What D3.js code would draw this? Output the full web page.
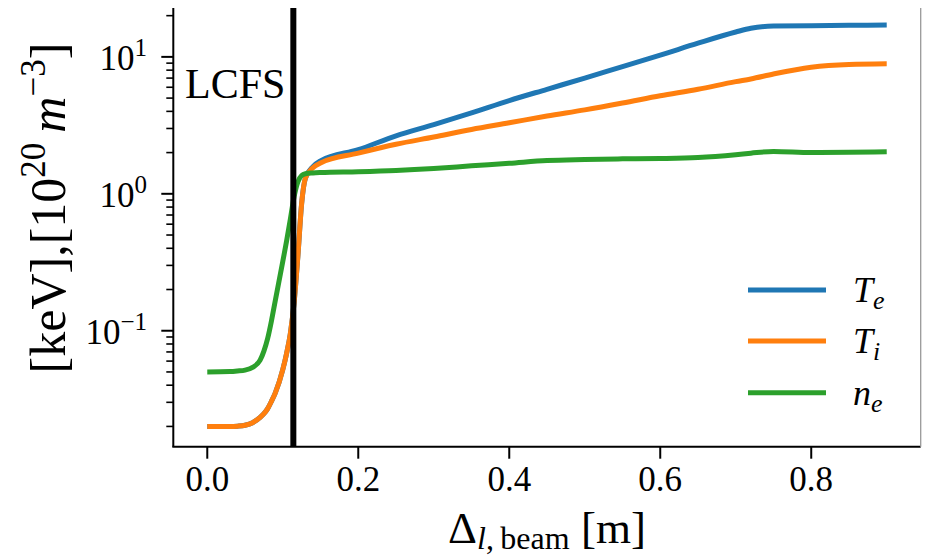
<!DOCTYPE html>
<head>
<meta charset="utf-8">
<script src="https://d3js.org/d3.v7.min.js"></script>
</head>
<body style="margin:0; background:#fff">
<svg width="932" height="555" font-family="Liberation Serif"></svg>
<script>

// positions along the beam [m]
var xs = [0, 0.03, 0.04, 0.05, 0.06, 0.07, 0.075, 0.08, 0.085, 0.09, 0.10, 0.105, 0.11, 0.115, 0.12, 0.125, 0.13, 0.14, 0.15,
          0.2, 0.25, 0.3, 0.35, 0.4, 0.45, 0.5, 0.55, 0.6, 0.65, 0.7, 0.72, 0.75, 0.8, 0.85, 0.9];

var Te = [0.020, 0.020, 0.0201, 0.0204, 0.0213, 0.0233, 0.0248, 0.027, 0.0305, 0.035, 0.052, 0.068, 0.095, 0.16, 0.35, 0.85, 1.30, 1.58, 1.74,
          2.1, 2.65, 3.2, 3.9, 4.8, 5.8, 7.0, 8.5, 10.3, 12.6, 15.2, 16.2, 16.8, 16.9, 17.0, 17.1];

var Ti = [0.020, 0.020, 0.0201, 0.0204, 0.0213, 0.0233, 0.0248, 0.027, 0.0305, 0.035, 0.052, 0.068, 0.095, 0.16, 0.35, 0.85, 1.30, 1.55, 1.68,
          1.98, 2.3, 2.6, 2.95, 3.3, 3.7, 4.1, 4.6, 5.2, 5.8, 6.6, 6.9, 7.5, 8.4, 8.8, 8.9];

var ne = [0.050, 0.0503, 0.0508, 0.0516, 0.054, 0.061, 0.071, 0.088, 0.118, 0.165, 0.32, 0.45, 0.65, 0.95, 1.22, 1.36, 1.40, 1.42, 1.43,
          1.45, 1.48, 1.53, 1.60, 1.67, 1.75, 1.78, 1.80, 1.81, 1.84, 1.93, 1.98, 2.04, 2.00, 2.01, 2.03];

var lcfs = 0.114;

var xTicks = [0.0, 0.2, 0.4, 0.6, 0.8];
var yTicks = [0.1, 1, 10];
var yTickExp = ["\u22121", "0", "1"];

var series = [
  {name: "T", sub: "e", values: Te, color: "#1f77b4"},
  {name: "T", sub: "i", values: Ti, color: "#ff7f0e"},
  {name: "n", sub: "e", values: ne, color: "#2ca02c"}
];

var FONT = "'Liberation Serif', 'Times New Roman', serif";

// serif text helper
function serif(sel, size, italic) {
  sel.attr("font-family", "Liberation Serif")
     .attr("font-size", size)
     .style("font-family", FONT, "important")
     .style("font-size", size + "px", "important")
     .style("font-style", italic ? "italic" : "normal", "important")
     .style("fill", "#000");
  return sel;
}

var svg = d3.select("svg"),
    plotL = 173.3, plotR = 920.7, plotT = 8, plotB = 446.7;

var x = d3.scaleLinear()
    .domain([-0.045, 0.945])
    .range([plotL, plotR]);

var y = d3.scaleLog()
    .domain([Math.pow(10, -1.847), Math.pow(10, 1.357)])
    .range([plotB, plotT]);

var line = d3.line()
    .x(function(d, i) { return x(xs[i]); })
    .y(function(d) { return y(d); })
    .curve(d3.curveMonotoneX);

// curves
svg.append("g")
  .selectAll("path")
  .data(series)
  .enter().append("path")
    .attr("fill", "none")
    .attr("stroke-width", 5)
    .attr("stroke-linejoin", "round")
    .attr("stroke", function(d) { return d.color; })
    .attr("d", function(d) { return line(d.values); });

// LCFS marker
svg.append("line")
    .attr("x1", x(lcfs)).attr("x2", x(lcfs))
    .attr("y1", plotT).attr("y2", plotB)
    .attr("stroke", "#000")
    .attr("stroke-width", 6);

serif(svg.append("text"), 42)
    .attr("x", 185)
    .attr("y", 98)
    .text("LCFS");

// spines
svg.append("line")
    .attr("x1", plotL).attr("x2", plotL).attr("y1", plotT).attr("y2", plotB)
    .attr("stroke", "#000").attr("stroke-width", 2);
svg.append("line")
    .attr("x1", plotL - 1).attr("x2", plotR).attr("y1", plotB).attr("y2", plotB)
    .attr("stroke", "#000").attr("stroke-width", 2);
svg.append("line")
    .attr("x1", plotR).attr("x2", plotR).attr("y1", plotT).attr("y2", plotB)
    .attr("stroke", "#999").attr("stroke-width", 1.3);

// x ticks
var xt = svg.append("g").selectAll("g")
  .data(xTicks)
  .enter().append("g")
    .attr("transform", function(d) { return "translate(" + x(d) + ",0)"; });

xt.append("line")
    .attr("y1", plotB).attr("y2", plotB + 12)
    .attr("stroke", "#000").attr("stroke-width", 2);

serif(xt.append("text"), 35)
    .attr("y", 491)
    .attr("text-anchor", "middle")
    .text(function(d) { return d.toFixed(1); });

// y minor ticks
var minor = [];
[0.01, 0.1, 1, 10].forEach(function(dec) {
  for (var k = 2; k <= 9; k++) {
    var v = dec * k;
    if (v >= y.domain()[0] && v <= y.domain()[1]) minor.push(v);
  }
});

svg.append("g").selectAll("line")
  .data(minor)
  .enter().append("line")
    .attr("x1", plotL - 7).attr("x2", plotL)
    .attr("y1", function(d) { return y(d); })
    .attr("y2", function(d) { return y(d); })
    .attr("stroke", "#000").attr("stroke-width", 1.6);

// y major ticks
var yt = svg.append("g").selectAll("g")
  .data(yTicks)
  .enter().append("g")
    .attr("transform", function(d) { return "translate(0," + y(d) + ")"; });

yt.append("line")
    .attr("x1", plotL - 12).attr("x2", plotL)
    .attr("stroke", "#000").attr("stroke-width", 2);

var ylab = serif(yt.append("text"), 35)
    .attr("x", 147)
    .attr("y", 13)
    .attr("text-anchor", "end");
ylab.append("tspan").text("10");
serif(ylab.append("tspan"), 25)
    .attr("dy", -14)
    .text(function(d, i) { return yTickExp[i]; });

// axis labels
var xl = serif(svg.append("text"), 45)
    .attr("x", 547)
    .attr("y", 543)
    .attr("text-anchor", "middle");
xl.append("tspan").text("\u0394");
serif(xl.append("tspan"), 32, true).attr("dy", 6).text("l");
serif(xl.append("tspan"), 32).text(",\u2009beam");
serif(xl.append("tspan"), 45).attr("dy", -6).text(" [m]");

var yl = serif(svg.append("text"), 50)
    .attr("transform", "translate(65,208) rotate(-90)")
    .attr("text-anchor", "middle");
yl.append("tspan").text("[keV],[10");
serif(yl.append("tspan"), 35).attr("dy", -20).text("20");
serif(yl.append("tspan"), 50).attr("dy", 20).text("\u2009");
serif(yl.append("tspan"), 50, true).text("m");
serif(yl.append("tspan"), 35).attr("dy", -20).text("\u22123");
serif(yl.append("tspan"), 50).attr("dy", 20).text("]");

// legend
var legY = [290, 341, 392.7];
var leg = svg.append("g").selectAll("g")
  .data(series)
  .enter().append("g")
    .attr("transform", function(d, i) { return "translate(0," + legY[i] + ")"; });

leg.append("line")
    .attr("x1", 748).attr("x2", 826)
    .attr("stroke", function(d) { return d.color; })
    .attr("stroke-width", 5);

var lt = serif(leg.append("text"), 36, true)
    .attr("x", 853)
    .attr("y", 12);
lt.append("tspan").text(function(d) { return d.name; });
serif(lt.append("tspan"), 26, true)
    .attr("dy", 7)
    .text(function(d) { return d.sub; });

</script>
</body>
</html>
